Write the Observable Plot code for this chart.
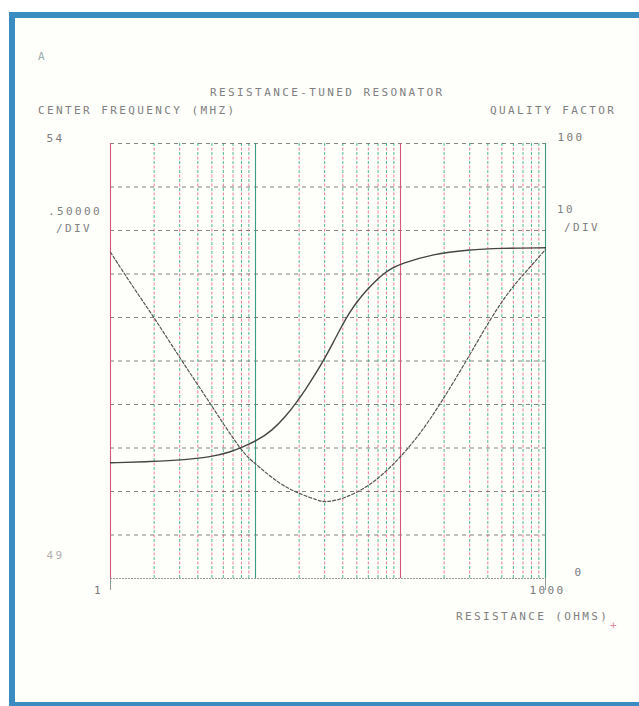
<!DOCTYPE html>
<html>
<head>
<meta charset="utf-8">
<script src="https://cdn.jsdelivr.net/npm/d3@7"></script>
<script src="https://cdn.jsdelivr.net/npm/@observablehq/plot@0.6"></script>
<style>
  html, body { margin: 0; padding: 0; background: #ffffff; }
  body { width: 639px; height: 706px; position: relative; overflow: hidden; }
  #frame { position: absolute; left: 9px; top: 12px; width: 700px; height: 694px; box-sizing: border-box;
    border-left: 6px solid #3b8cc1; border-top: 6px solid #3b8cc1; border-bottom: 4px solid #3b8cc1; background: #fefefb; }
  #chart { position: absolute; left: 0; top: 0; }
  .lbl { position: absolute; font-family: "DejaVu Sans Mono", monospace; font-size: 11px; line-height: 12px;
    letter-spacing: 2.4px; color: #808080; white-space: nowrap; }
  svg text { letter-spacing: 2.4px; }
</style>
</head>
<body>
<div id="frame"></div>
<div id="chart"></div>
<div class="lbl" style="left:38px; top:51px; color:#9aa;">A</div>
<div class="lbl" style="left:210px; top:87px;">RESISTANCE-TUNED RESONATOR</div>
<div class="lbl" style="left:38px; top:105px;">CENTER FREQUENCY (MHZ)</div>
<div class="lbl" style="left:490px; top:105px;">QUALITY FACTOR</div>
<div class="lbl" style="left:48px; top:206px;">.50000</div>
<div class="lbl" style="left:56px; top:223px;">/DIV</div>
<div class="lbl" style="left:557px; top:204px;">10</div>
<div class="lbl" style="left:564px; top:222px;">/DIV</div>
<div class="lbl" style="left:456px; top:611px;">RESISTANCE (OHMS)</div>
<div class="lbl" style="left:610px; top:620px; color:#d88aa0;">+</div>
<script>
// Axis settings
const resistanceDomain = [1, 1000];          // ohms, log scale
const frequencyDomain = [49, 54];            // MHz, 0.5 / div
const qualityDomain = [0, 100];              // 10 / div
const freqGrid = [49.5, 50, 50.5, 51, 51.5, 52, 52.5, 53, 53.5, 54];
const minorR = [2,3,4,5,6,7,8,9, 20,30,40,50,60,70,80,90, 200,300,400,500,600,700,800,900];
const decadesRed = [1, 100];
const decadesGreen = [10, 1000];

// Center frequency curve (solid)
const freqR = [1, 1.888, 3.29, 5.051, 6.724, 8.095, 10.27, 13.04, 16.10, 18.88, 22.13, 25.94, 30.39, 34.51, 39.19, 44.49, 50.52, 58.92, 67.23, 76.70, 88.08, 100, 168.9, 289.8, 489.5, 1000];
const freqMHz = [50.330, 50.343, 50.364, 50.402, 50.454, 50.509, 50.586, 50.701, 50.862, 51.008, 51.172, 51.351, 51.546, 51.718, 51.897, 52.057, 52.190, 52.322, 52.420, 52.506, 52.569, 52.617, 52.732, 52.778, 52.797, 52.801];

// Quality factor curve (dashed)
const qR = [1, 1.41, 1.99, 2.96, 3.86, 4.90, 6.21, 7.88, 8.95, 10.3, 14.5, 19.9, 27.3, 30.4, 40.6, 58.9, 76.7, 100, 137, 189, 288, 418, 574, 788, 1000];
const qVal = [75.0, 67.3, 60.1, 51.1, 45.3, 40.1, 34.8, 29.8, 27.7, 26.0, 21.8, 19.5, 17.9, 17.5, 18.3, 21.0, 24.1, 27.9, 33.3, 40.2, 50.3, 59.8, 66.6, 71.7, 75.6];

// Map quality factor onto the frequency axis (right axis shares the grid)
const qToF = q => frequencyDomain[0] + (q - qualityDomain[0]) / (qualityDomain[1] - qualityDomain[0]) * (frequencyDomain[1] - frequencyDomain[0]);

const freqData = freqR.map((r, i) => ({r, f: freqMHz[i]}));
const qData = qR.map((r, i) => ({r, f: qToF(qVal[i])}));

const leftTicks = [{r: 1, f: 54, t: "54"}];
const leftBottom = [{r: 1, f: 49, t: "49"}];
const rightTop = [{r: 1000, f: 54, t: "100"}];
const rightBottom = [{r: 1000, f: 49, t: "0"}];
const xTickLeft = [{r: 1, f: 49, t: "1"}];
const xTickRight = [{r: 1000, f: 49, t: "1000"}];

const chart = Plot.plot({
  width: 639,
  height: 706,
  marginLeft: 110,
  marginRight: 94,
  marginTop: 143,
  marginBottom: 128,
  x: {type: "log", domain: resistanceDomain, axis: null},
  y: {domain: frequencyDomain, axis: null},
  style: {background: "transparent", fontFamily: "DejaVu Sans Mono", fontSize: "11px", color: "#808080", overflow: "visible"},
  marks: [
    // minor vertical grid: green and red dashes interleaved
    Plot.ruleX(minorR, {y1: frequencyDomain[0], y2: frequencyDomain[1], stroke: "#3fae8c", strokeWidth: 1, strokeDasharray: "3,6", strokeOpacity: 0.9}),
    Plot.ruleX(minorR, {y1: frequencyDomain[0], y2: frequencyDomain[1], stroke: "#e0708c", strokeWidth: 1, strokeDasharray: "3,6", strokeDashoffset: 4.5, strokeOpacity: 0.9}),
    // horizontal grid
    Plot.ruleY(freqGrid, {stroke: "#6f6f6f", strokeWidth: 1, strokeDasharray: "4,4", strokeOpacity: 0.85}),
    Plot.ruleY([frequencyDomain[0]], {stroke: "#9a9a9a", strokeWidth: 1, strokeDasharray: "2,1"}),
    // decade lines
    Plot.ruleX(decadesRed, {y1: frequencyDomain[0], y2: frequencyDomain[1], stroke: "#d7557a", strokeWidth: 1.1}),
    Plot.ruleX(decadesGreen, {y1: frequencyDomain[0], y2: frequencyDomain[1], stroke: "#3a9c80", strokeWidth: 1.1}),
    Plot.ruleX([1, 1000], {y1: frequencyDomain[0], y2: frequencyDomain[0], stroke: "#999", strokeWidth: 1, insetBottom: -12}),
    // curves
    Plot.line(qData, {x: "r", y: "f", stroke: "#555", strokeWidth: 1.2, strokeDasharray: "3,2", curve: "basis"}),
    Plot.line(freqData, {x: "r", y: "f", stroke: "#454545", strokeWidth: 1.4, curve: "basis"}),
    // tick labels
    Plot.text(leftTicks, {x: "r", y: "f", text: "t", textAnchor: "end", dx: -46, dy: -5, fill: "#7a7a7a"}),
    Plot.text(leftBottom, {x: "r", y: "f", text: "t", textAnchor: "end", dx: -46, dy: -23, fill: "#b0b0b0"}),
    Plot.text(rightTop, {x: "r", y: "f", text: "t", textAnchor: "start", dx: 12, dy: -6, fill: "#7a7a7a"}),
    Plot.text(rightBottom, {x: "r", y: "f", text: "t", textAnchor: "start", dx: 29, dy: -6, fill: "#7a7a7a"}),
    Plot.text(xTickLeft, {x: "r", y: "f", text: "t", textAnchor: "middle", dx: -12, dy: 12, fill: "#7a7a7a"}),
    Plot.text(xTickRight, {x: "r", y: "f", text: "t", textAnchor: "middle", dx: 2, dy: 12, fill: "#7a7a7a"})
  ]
});
document.getElementById("chart").appendChild(chart);
</script>
</body>
</html>
